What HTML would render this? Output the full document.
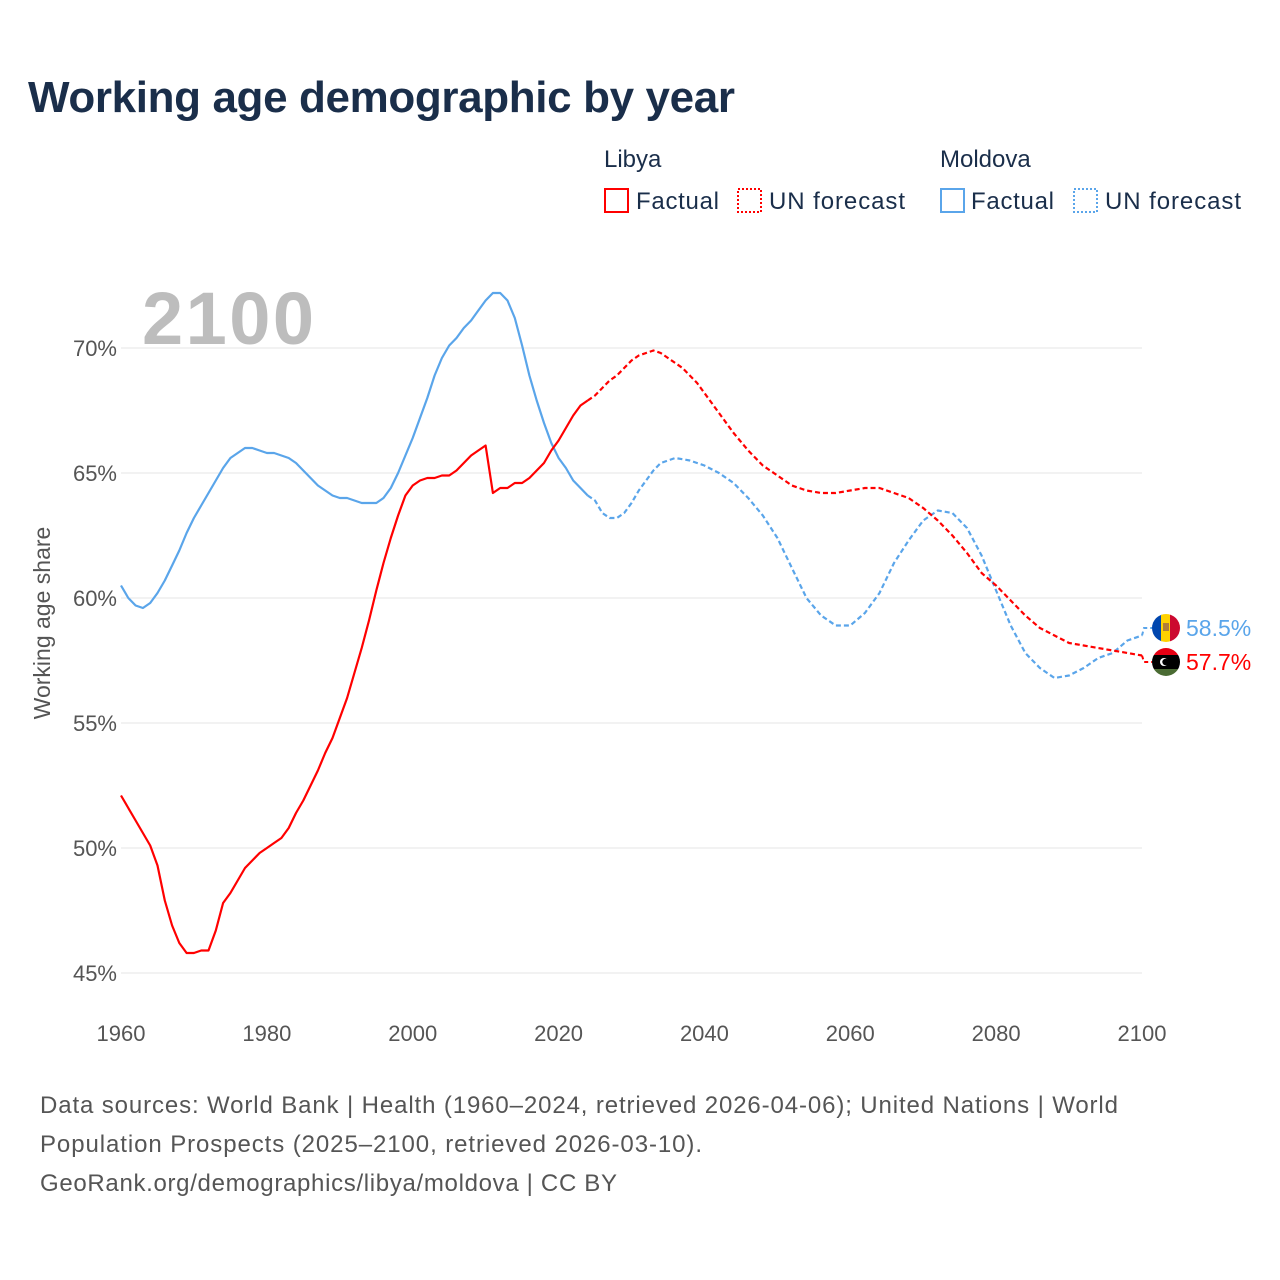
<!DOCTYPE html>
<html><head><meta charset="utf-8"><style>
body{margin:0;background:#fff;font-family:"Liberation Sans",sans-serif}
#wrap{position:relative;width:1280px;height:1280px;overflow:hidden}
</style></head><body>
<div id="wrap">
<svg id="chart" width="1280" height="1280">
<text x="28" y="112" font-size="44" font-weight="bold" fill="#1a2e4a" textLength="707">Working age demographic by year</text>
<g font-size="24" fill="#1a2e4a">
<text x="604" y="167">Libya</text>
<text x="940" y="167">Moldova</text>
<g><rect x="605" y="189" width="23" height="23" fill="none" stroke="#f00" stroke-width="2"/><text x="636" y="209" textLength="83">Factual</text></g>
<g><rect x="738" y="189" width="23" height="23" fill="none" stroke="#f00" stroke-width="2" stroke-dasharray="2,2"/><text x="769" y="209" textLength="136">UN forecast</text></g>
<g><rect x="941" y="189" width="23" height="23" fill="none" stroke="#5aa5ea" stroke-width="2"/><text x="971" y="209" textLength="83">Factual</text></g>
<g><rect x="1074" y="189" width="23" height="23" fill="none" stroke="#5aa5ea" stroke-width="2" stroke-dasharray="2,2"/><text x="1105" y="209" textLength="136">UN forecast</text></g>
</g>
<text x="142" y="344" font-size="74" font-weight="bold" fill="#bdbdbd" textLength="172">2100</text>
<g id="grid"></g><g id="marks"></g>
<text transform="translate(50,623) rotate(-90)" text-anchor="middle" font-size="23" fill="#555">Working age share</text>
<g font-size="24" fill="#555">
<text x="40" y="1113" textLength="1078">Data sources: World Bank | Health (1960–2024, retrieved 2026-04-06); United Nations | World</text>
<text x="40" y="1152" textLength="662">Population Prospects (2025–2100, retrieved 2026-03-10).</text>
<text x="40" y="1191" textLength="577">GeoRank.org/demographics/libya/moldova | CC BY</text>
</g>
</svg></div>
<script>
const yTicks=[45,50,55,60,65,70];
const xTicks=[1960,1980,2000,2020,2040,2060,2080,2100];
const libyaYears=[1960,1962,1964,1965,1966,1967,1968,1969,1970,1971,1972,1973,1974,1975,1976,1977,1978,1979,1980,1981,1982,1983,1984,1985,1986,1987,1988,1989,1990,1991,1992,1993,1994,1995,1996,1997,1998,1999,2000,2001,2002,2003,2004,2005,2006,2007,2008,2009,2010,2011,2012,2013,2014,2015,2016,2017,2018,2019,2020,2021,2022,2023,2024];
const libyaValues=[52.1,51.1,50.1,49.3,47.9,46.9,46.2,45.8,45.8,45.9,45.9,46.7,47.8,48.2,48.7,49.2,49.5,49.8,50.0,50.2,50.4,50.8,51.4,51.9,52.5,53.1,53.8,54.4,55.2,56.0,57.0,58.0,59.1,60.3,61.4,62.4,63.3,64.1,64.5,64.7,64.8,64.8,64.9,64.9,65.1,65.4,65.7,65.9,66.1,64.2,64.4,64.4,64.6,64.6,64.8,65.1,65.4,65.9,66.3,66.8,67.3,67.7,67.9];
const libyaFcYears=[2024,2025,2026,2027,2028,2029,2030,2031,2032,2033,2034,2035,2036,2037,2038,2039,2040,2042,2044,2046,2048,2050,2052,2054,2056,2058,2060,2062,2064,2066,2068,2070,2072,2074,2076,2078,2080,2082,2084,2086,2088,2090,2092,2094,2096,2098,2100];
const libyaFcValues=[67.9,68.1,68.4,68.7,68.9,69.2,69.5,69.7,69.8,69.9,69.8,69.6,69.4,69.2,68.9,68.6,68.2,67.4,66.6,65.9,65.3,64.9,64.5,64.3,64.2,64.2,64.3,64.4,64.4,64.2,64.0,63.6,63.1,62.5,61.8,61.0,60.5,59.9,59.3,58.8,58.5,58.2,58.1,58.0,57.9,57.8,57.7];
const moldovaYears=[1960,1961,1962,1963,1964,1965,1966,1967,1968,1969,1970,1971,1972,1973,1974,1975,1976,1977,1978,1979,1980,1981,1982,1983,1984,1985,1986,1987,1988,1989,1990,1991,1992,1993,1994,1995,1996,1997,1998,1999,2000,2001,2002,2003,2004,2005,2006,2007,2008,2009,2010,2011,2012,2013,2014,2015,2016,2017,2018,2019,2020,2021,2022,2023,2024];
const moldovaValues=[60.5,60.0,59.7,59.6,59.8,60.2,60.7,61.3,61.9,62.6,63.2,63.7,64.2,64.7,65.2,65.6,65.8,66.0,66.0,65.9,65.8,65.8,65.7,65.6,65.4,65.1,64.8,64.5,64.3,64.1,64.0,64.0,63.9,63.8,63.8,63.8,64.0,64.4,65.0,65.7,66.4,67.2,68.0,68.9,69.6,70.1,70.4,70.8,71.1,71.5,71.9,72.2,72.2,71.9,71.2,70.1,68.9,67.9,67.0,66.2,65.6,65.2,64.7,64.4,64.1];
const moldovaFcYears=[2024,2025,2026,2027,2028,2029,2030,2031,2032,2033,2034,2036,2038,2040,2042,2044,2046,2048,2050,2052,2054,2056,2058,2060,2062,2064,2066,2068,2070,2072,2074,2076,2078,2080,2082,2084,2086,2088,2090,2092,2094,2096,2098,2100];
const moldovaFcValues=[64.1,63.9,63.4,63.2,63.2,63.4,63.8,64.3,64.7,65.1,65.4,65.6,65.5,65.3,65.0,64.6,64.0,63.3,62.4,61.2,60.0,59.3,58.9,58.9,59.4,60.2,61.4,62.3,63.1,63.5,63.4,62.8,61.7,60.3,58.9,57.8,57.2,56.8,56.9,57.2,57.6,57.8,58.3,58.5];
const NS='http://www.w3.org/2000/svg';
const x=v=>121+(v-1960)*(1021/140);
const y=v=>973-(v-45)*25;
const grid=document.getElementById('grid'),marks=document.getElementById('marks');
function mk(tag,attrs,parent){const e=document.createElementNS(NS,tag);for(const k in attrs)e.setAttribute(k,attrs[k]);parent.appendChild(e);return e;}
yTicks.forEach(t=>{
 const l=mk('line',{x1:121,x2:1142,y1:y(t),y2:y(t),stroke:'#e6e6e6','stroke-width':1},grid);
 
 
 const tx=mk('text',{x:117,y:y(t)+8,'text-anchor':'end','font-size':22,fill:'#555'},grid);
 tx.textContent=t+'%';
 
 
});
xTicks.forEach(t=>{
 const tx=mk('text',{x:x(t),y:1041,'text-anchor':'middle','font-size':22,fill:'#555'},grid);
 tx.textContent=t;
 
 
});
function line(xs,vs,color,dash,name){
 const d=xs.map((v,i)=>(i?'L':'M')+x(v).toFixed(1)+','+y(vs[i]).toFixed(1)).join('');
 const p=mk('path',{d:d,fill:'none',stroke:color,'stroke-width':2.2,'stroke-linejoin':'round'},marks);
 if(dash)p.setAttribute('stroke-dasharray',dash);
 
 
}
line(moldovaFcYears,moldovaFcValues,'#5aa5ea','5,3','moldova-forecast-line');
line(libyaFcYears,libyaFcValues,'#f00','5,3','libya-forecast-line');
line(moldovaYears,moldovaValues,'#5aa5ea',null,'moldova-factual-line');
line(libyaYears,libyaValues,'#f00',null,'libya-factual-line');
const mEnd=moldovaFcValues[moldovaFcValues.length-1],lEnd=libyaFcValues[libyaFcValues.length-1];
const my=628,ly=662;
mk('path',{d:`M${x(2100)},${y(mEnd)}L1144,${my}L1152,${my}`,fill:'none',stroke:'#5aa5ea','stroke-width':2,'stroke-dasharray':'4,3'},marks);
mk('path',{d:`M${x(2100)},${y(lEnd)}L1144,${ly}L1152,${ly}`,fill:'none',stroke:'#f00','stroke-width':2,'stroke-dasharray':'4,3'},marks);
const defs=mk('defs',{},marks);
const c1=mk('clipPath',{id:'cm'},defs);mk('circle',{cx:1166,cy:my,r:14},c1);
const c2=mk('clipPath',{id:'cl'},defs);mk('circle',{cx:1166,cy:ly,r:14},c2);
const fm=mk('g',{'clip-path':'url(#cm)'},marks);


mk('rect',{x:1152,y:my-14,width:10,height:28,fill:'#0046ae'},fm);
mk('rect',{x:1161,y:my-14,width:10,height:28,fill:'#ffd200'},fm);
mk('rect',{x:1170,y:my-14,width:10,height:28,fill:'#cc092f'},fm);
mk('rect',{x:1163,y:my-5,width:6,height:8,fill:'#b07e3a'},fm);
const fl=mk('g',{'clip-path':'url(#cl)'},marks);


mk('rect',{x:1152,y:ly-14,width:28,height:8,fill:'#e70013'},fl);
mk('rect',{x:1152,y:ly-7,width:28,height:14,fill:'#000'},fl);
mk('rect',{x:1152,y:ly+7,width:28,height:8,fill:'#4a6b33'},fl);
mk('circle',{cx:1164,cy:ly,r:4,fill:'#fff'},fl);
mk('circle',{cx:1165.5,cy:ly,r:3.2,fill:'#000'},fl);
const t1=mk('text',{x:1186,y:my+8,'font-size':23,fill:'#5aa5ea'},marks);t1.textContent=mEnd.toFixed(1)+'%';


const t2=mk('text',{x:1186,y:ly+8,'font-size':23,fill:'#f00'},marks);t2.textContent=lEnd.toFixed(1)+'%';


</script>
</body></html>
